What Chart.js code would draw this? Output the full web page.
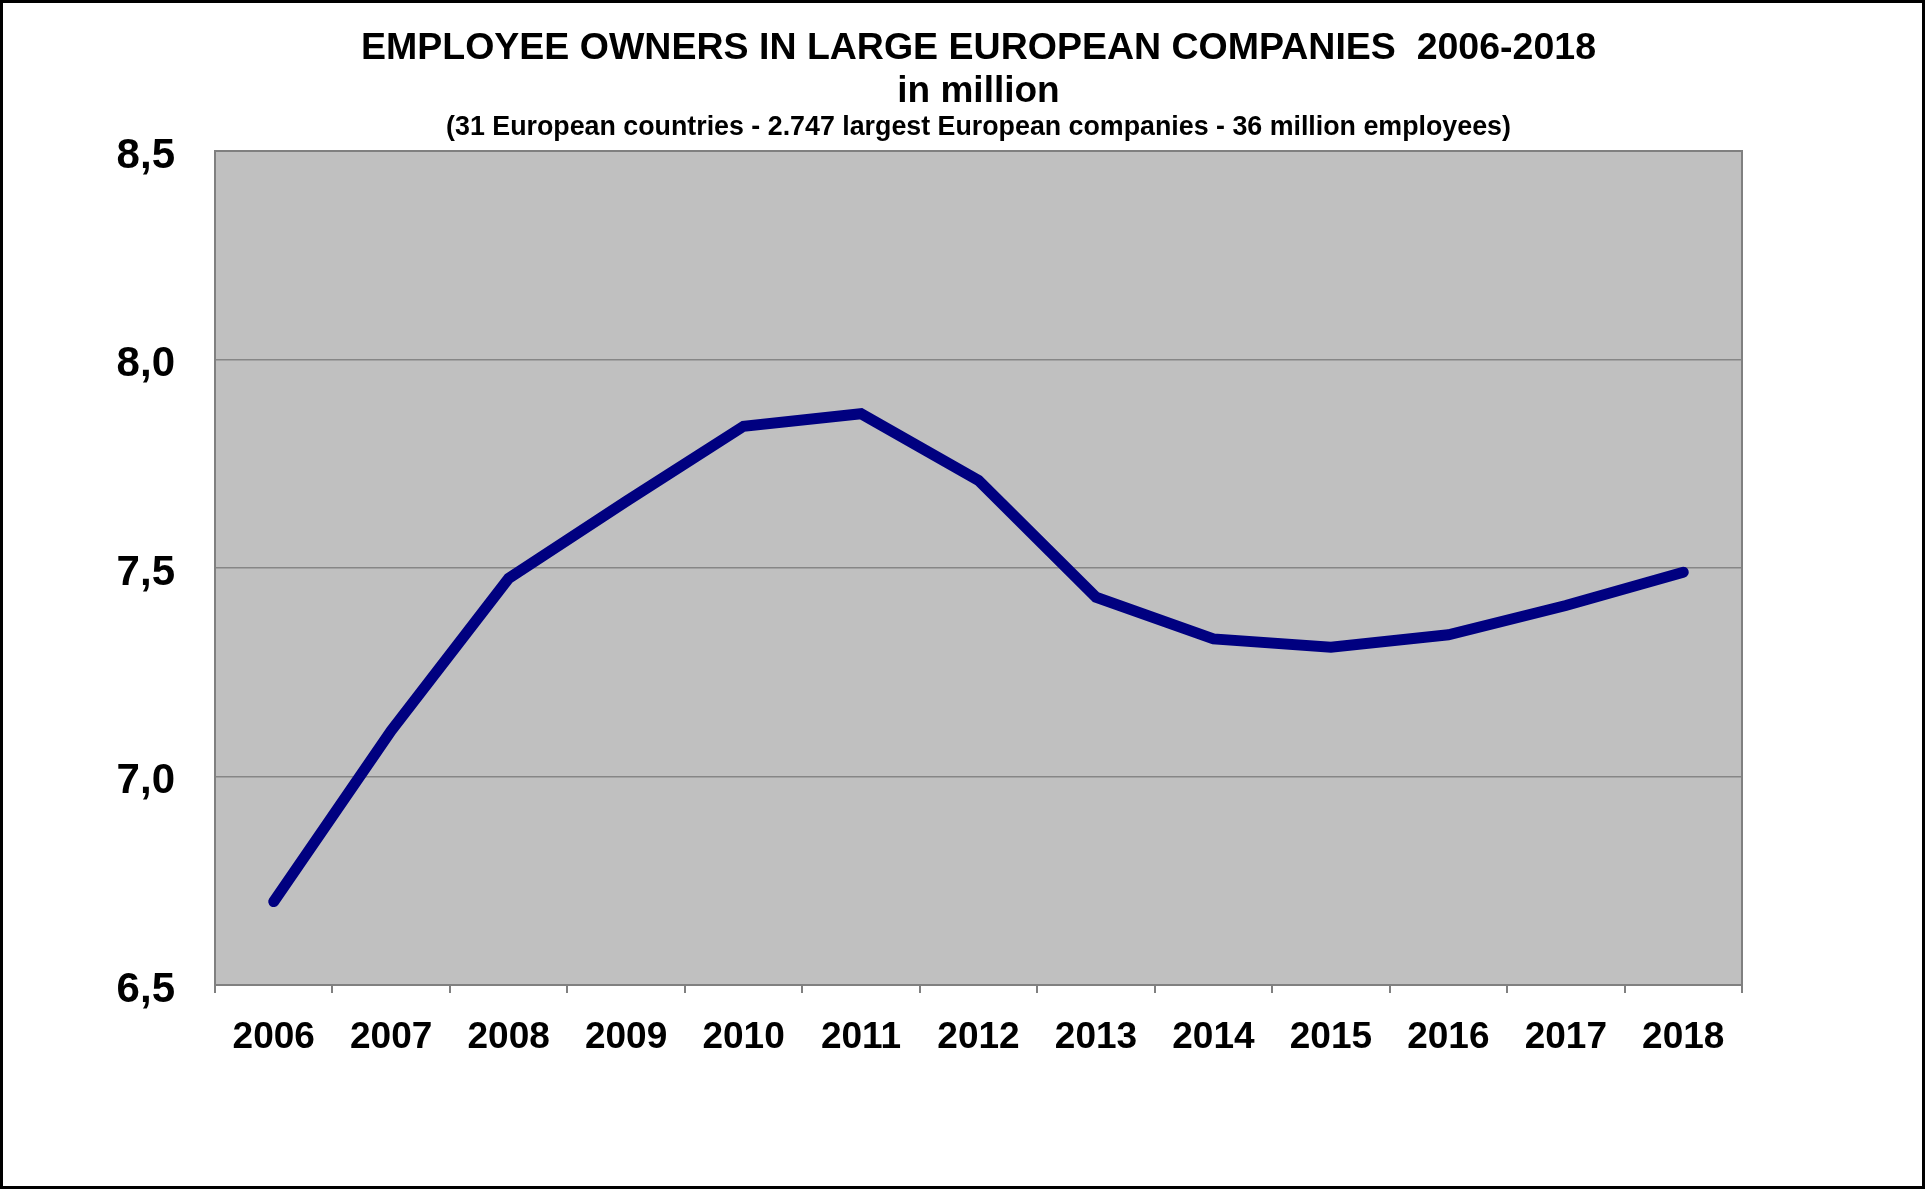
<!DOCTYPE html>
<html>
<head>
<meta charset="utf-8">
<script src="https://cdn.jsdelivr.net/npm/chart.js@4/dist/chart.umd.min.js"></script>
<style>
  html, body { margin: 0; padding: 0; background: #fff; }
  #wrap { position: relative; width: 1925px; height: 1189px; overflow: hidden; }
  #c { position: absolute; left: 0; top: 0; }
  #frame { position: absolute; left: 0; top: 0; width: 1925px; height: 1189px; box-sizing: border-box; border: 3px solid #000; pointer-events: none; }
</style>
</head>
<body>
<div id="wrap">
  <canvas id="c" width="1925" height="1189"></canvas>
  <div id="frame"></div>
</div>
<script>
const years = ['2006','2007','2008','2009','2010','2011','2012','2013','2014','2015','2016','2017','2018'];
const employeeOwners = [6.70, 7.11, 7.475, 7.66, 7.84, 7.87, 7.71, 7.43, 7.33, 7.31, 7.34, 7.41, 7.49];
const yTickLabels = ['6,5','7,0','7,5','8,0','8,5'];
const titleLines = [
  'EMPLOYEE OWNERS IN LARGE EUROPEAN COMPANIES  2006-2018',
  'in million',
  '(31 European countries - 2.747 largest European companies - 36 million employees)'
];

const FONT = '"Liberation Sans", Arial, Helvetica, sans-serif';

const plotBackground = {
  id: 'plotBackground',
  beforeDraw(chart) {
    const {ctx, chartArea: a} = chart;
    ctx.save();
    ctx.fillStyle = '#c0c0c0';
    ctx.fillRect(a.left, a.top, a.right - a.left, a.bottom - a.top);
    ctx.restore();
  },
  afterDatasetsDraw(chart) {
    const {ctx, chartArea: a} = chart;
    ctx.save();
    ctx.strokeStyle = '#808080';
    ctx.lineWidth = 2;
    ctx.strokeRect(a.left, a.top, a.right - a.left, a.bottom - a.top);
    ctx.restore();
  }
};

const titles = {
  id: 'titles',
  afterDraw(chart) {
    const {ctx, chartArea: a} = chart;
    const cx = (a.left + a.right) / 2;
    const specs = [
      {size: 37.5, y: 59},
      {size: 37, y: 102},
      {size: 26.8, y: 135}
    ];
    ctx.save();
    ctx.fillStyle = '#000';
    ctx.textAlign = 'center';
    ctx.textBaseline = 'alphabetic';
    titleLines.forEach((t, i) => {
      ctx.font = 'bold ' + specs[i].size + 'px ' + FONT;
      ctx.fillText(t, cx, specs[i].y);
    });
    ctx.restore();
  }
};

new Chart(document.getElementById('c'), {
  type: 'line',
  data: {
    labels: years,
    datasets: [{
      data: employeeOwners,
      borderColor: '#000080',
      backgroundColor: '#000080',
      borderWidth: 11,
      tension: 0,
      pointRadius: 0,
      pointHoverRadius: 0,
      borderCapStyle: 'round',
      borderJoinStyle: 'miter',
      fill: false
    }]
  },
  options: {
    responsive: false,
    animation: false,
    events: [],
    layout: { padding: { left: 0, right: 183, top: 151, bottom: 100 } },
    plugins: {
      legend: { display: false },
      tooltip: { enabled: false },
      title: { display: false }
    },
    scales: {
      x: {
        type: 'category',
        offset: true,
        afterFit(scale) { scale.height = 104; },
        border: { display: true, color: '#808080', width: 2 },
        grid: {
          offset: true,
          drawOnChartArea: false,
          drawTicks: true,
          tickLength: 8,
          color: '#808080',
          lineWidth: 2
        },
        ticks: {
          color: '#000',
          padding: 23,
          maxRotation: 0,
          autoSkip: false,
          font: { family: FONT, size: 37, weight: 'bold' }
        }
      },
      y: {
        min: 6.5,
        max: 8.5,
        afterFit(scale) { scale.width = 215; },
        afterBuildTicks(scale) {
          scale.ticks = yTickLabels.map((_, i) => ({ value: 6.5 + i * 0.5 }));
        },
        border: { display: true, color: '#808080', width: 2 },
        grid: {
          drawTicks: false,
          color: '#868686',
          lineWidth: 1.5
        },
        ticks: {
          color: '#000',
          padding: 40,
          labelOffset: 5,
          callback: (v, i) => yTickLabels[i],
          font: { family: FONT, size: 42, weight: 'bold' }
        }
      }
    }
  },
  plugins: [plotBackground, titles]
});
</script>
</body>
</html>
